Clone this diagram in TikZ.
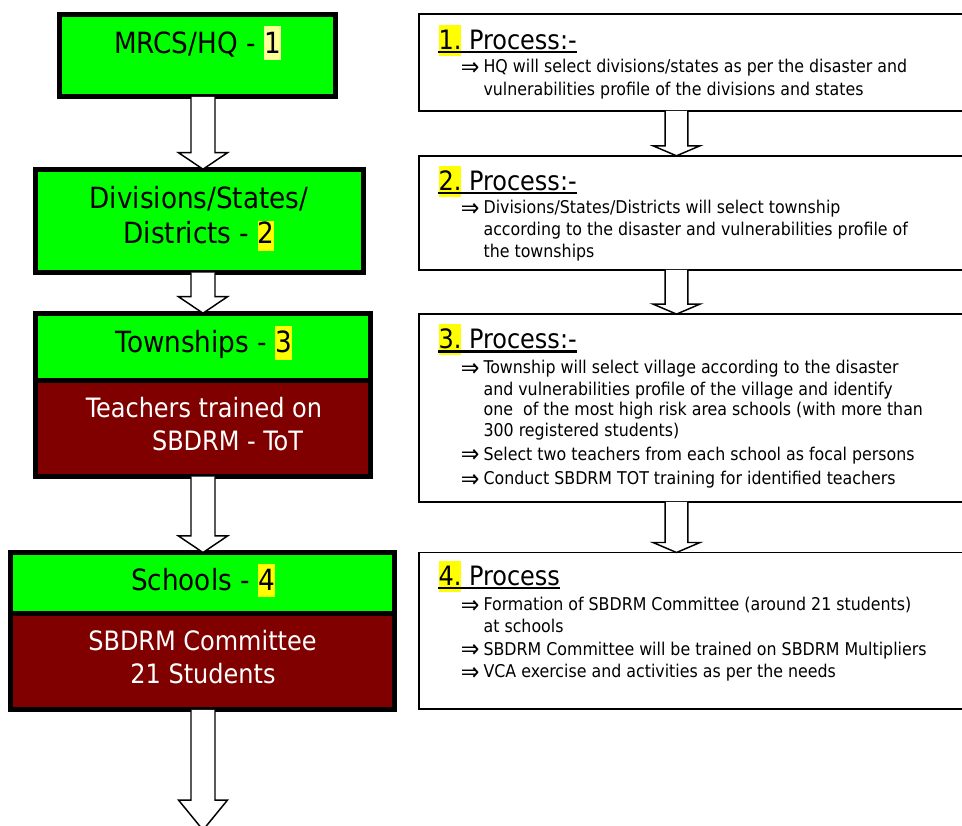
\documentclass[tikz,border=0pt]{standalone}
\usepackage{fontspec}
\setmainfont{DejaVu Sans Condensed}
\usetikzlibrary{calc}
\definecolor{lgreen}{HTML}{00FF00}
\definecolor{maroonc}{HTML}{800000}
\definecolor{paleyel}{HTML}{FFFF99}
\definecolor{hlyel}{HTML}{FFFF00}
\newcommand{\hlmark}[4]{{\setlength{\fboxsep}{0pt}\colorbox{#1}{\rule[-#2]{0pt}{#3}#4}}}
\newcommand{\blockarrow}[6]{% x-coordinate, from, to, shaft half, head half, head length
  \draw[barrow] let \p1=(#1), \p2=(#2), \p3=(#3) in
    (\x1-#4,\y2) -- (\x1-#4,\y3+#6) -- (\x1-#5,\y3+#6) -- (\x1,\y3)
    -- (\x1+#5,\y3+#6) -- (\x1+#4,\y3+#6) -- (\x1+#4,\y2);}
\tikzset{
  lbox/.style={draw=black, line width=3.75pt, inner sep=0pt, outer sep=0pt},
  rbox/.style={draw=black, line width=1.3pt, fill=white, inner sep=0pt, outer sep=0pt},
  gtext/.style={inner sep=0pt, font=\fontsize{21.9pt}{26pt}\selectfont, text=black},
  wtext/.style={inner sep=0pt, font=\fontsize{20pt}{24pt}\selectfont, text=white},
  headtext/.style={inner sep=0pt, anchor=base west, font=\fontsize{20pt}{24pt}\selectfont},
  btext/.style={inner sep=0pt, anchor=base west, font=\fontsize{13.2pt}{16.5pt}\selectfont},
  bmark/.style={inner sep=0pt, anchor=base west, yshift=-2.2pt, font=\fontsize{18.5pt}{20pt}\selectfont},
  uline/.style={line width=1.7pt},
  barrow/.style={draw=black, fill=white, line width=1.1pt, line join=miter}
}
\begin{document}
\begin{tikzpicture}[x=0.75pt, y=-0.75pt]
\useasboundingbox (0,0) rectangle (962,825);
\clip (0,0) rectangle (962,825);
\fill[white] (0,0) rectangle (962,825);

% ---------- left column boxes ----------
\node[lbox, fill=lgreen, minimum width=276.6*0.75pt, minimum height=82.6*0.75pt] (b1) at (197.5,55.5) {};
\node[lbox, fill=lgreen, minimum width=327.4*0.75pt, minimum height=103.3*0.75pt] (b2) at (199.5,220.85) {};
\node[lbox, fill=lgreen, minimum width=335*0.75pt, minimum height=66.8*0.75pt] (b3t) at (203.3,346.6) {};
\node[lbox, fill=maroonc, minimum width=335*0.75pt, minimum height=96.5*0.75pt] (b3b) at (203.3,428.25) {};
\node[lbox, fill=lgreen, minimum width=384*0.75pt, minimum height=61*0.75pt] (b4t) at (202.8,583) {};
\node[lbox, fill=maroonc, minimum width=384*0.75pt, minimum height=96.3*0.75pt] (b4b) at (202.8,661.65) {};
\coordinate (lax) at (203,0);
\coordinate (lend) at (203,830);

% ---------- right column boxes ----------
\node[rbox, minimum width=581*0.75pt, minimum height=96.6*0.75pt] (r1) at (709.5,62.5) {};
\node[rbox, minimum width=581*0.75pt, minimum height=114.1*0.75pt] (r2) at (709.5,212.85) {};
\node[rbox, minimum width=581*0.75pt, minimum height=187.8*0.75pt] (r3) at (709.5,408) {};
\node[rbox, minimum width=581*0.75pt, minimum height=156.7*0.75pt] (r4) at (709.5,630.85) {};
\coordinate (rax) at (676.5,0);

% ---------- left texts ----------
\node[gtext, anchor=base] (t1) at (197.5,53) {MRCS/HQ - \hlmark{paleyel}{5.25pt}{25.5pt}{1}};
\node[gtext, anchor=base] (t2a) at (199,208) {Divisions/States/};
\node[gtext, anchor=base] (t2b) at (199,243) {Districts - \hlmark{hlyel}{6.3pt}{20.6pt}{2}};
\node[gtext, anchor=base] (t3) at (204,352) {Townships - \hlmark{hlyel}{6pt}{25.5pt}{3}};
\node[wtext, anchor=base] (t3a) at (204,417) {Teachers trained on};
\node[wtext, anchor=base] (t3b) at (227.5,450) {SBDRM - ToT};
\node[gtext, anchor=base] (t4) at (203,590) {Schools - \hlmark{hlyel}{5.5pt}{25pt}{4}};
\node[wtext, anchor=base] (t4a) at (202.5,650) {SBDRM Committee};
\node[wtext, anchor=base] (t4b) at (203,683) {21 Students};

% ---------- right headings ----------
\node[headtext] (h1) at (438.3,49) {\hlmark{hlyel}{4.9pt}{22.9pt}{1.} Process:-};
\draw[uline] ([yshift=-2.4pt]h1.base west) -- ([yshift=-2.4pt]h1.base east);
\node[headtext] (h2) at (438.3,190) {\hlmark{hlyel}{4.9pt}{22.9pt}{2.} Process:-};
\draw[uline] ([yshift=-2.4pt]h2.base west) -- ([yshift=-2.4pt]h2.base east);
\node[headtext] (h3) at (438.3,348.3) {\hlmark{hlyel}{4.9pt}{22.9pt}{3.} Process:-};
\draw[uline] ([yshift=-2.4pt]h3.base west) -- ([yshift=-2.4pt]h3.base east);
\node[headtext] (h4) at (438.3,585) {\hlmark{hlyel}{4.9pt}{22.9pt}{4.} Process};
\draw[uline] ([yshift=-2.4pt]h4.base west) -- ([yshift=-2.4pt]h4.base east);

% ---------- bullets ----------
\node[bmark] (p1m) at (460.5,72.7) {⇒};
\node[btext] (p1a) at (483.3,72.7) {HQ will select divisions/states as per the disaster and};
\node[btext] (p1b) at (483.3,95) {vulnerabilities profile of the divisions and states};

\node[bmark] (p2m) at (460.5,213.5) {⇒};
\node[btext] (p2a) at (483.3,213.5) {Divisions/States/Districts will select township};
\node[btext] (p2b) at (483.3,235.5) {according to the disaster and vulnerabilities profile of};
\node[btext] (p2c) at (483.3,257) {the townships};

\node[bmark] (p3m) at (460.5,373.3) {⇒};
\node[btext] (p3a) at (483.3,373.3) {Township will select village according to the disaster};
\node[btext] (p3b) at (483.3,395) {and vulnerabilities profile of the village and identify};
\node[btext] (p3c) at (483.3,415.5) {one \ of the most high risk area schools (with more than};
\node[btext] (p3d) at (483.3,436.7) {300 registered students)};
\node[bmark] (p3n) at (460.5,460) {⇒};
\node[btext] (p3e) at (483.3,460) {Select two teachers from each school as focal persons};
\node[bmark] (p3o) at (460.5,484.3) {⇒};
\node[btext] (p3f) at (483.3,484.3) {Conduct SBDRM TOT training for identified teachers};

\node[bmark] (p4m) at (460.5,610.7) {⇒};
\node[btext] (p4a) at (483.3,610.7) {Formation of SBDRM Committee (around 21 students)};
\node[btext] (p4b) at (483.3,632.7) {at schools};
\node[bmark] (p4n) at (460.5,655) {⇒};
\node[btext] (p4c) at (483.3,655) {SBDRM Committee will be trained on SBDRM Multipliers};
\node[bmark] (p4o) at (460.5,677.3) {⇒};
\node[btext] (p4d) at (483.3,677.3) {VCA exercise and activities as per the needs};

% ---------- arrows ----------
\blockarrow{lax}{b1.south}{b2.north}{9pt}{18.4pt}{12.4pt}
\blockarrow{lax}{b2.south}{b3t.north}{9pt}{18.4pt}{12.4pt}
\blockarrow{lax}{b3b.south}{b4t.north}{9pt}{18.4pt}{12.4pt}
\blockarrow{lax}{b4b.south}{lend}{9pt}{18.4pt}{22.5pt}
\blockarrow{rax}{r1.south}{r2.north}{8.6pt}{17.6pt}{7.5pt}
\blockarrow{rax}{r2.south}{r3.north}{8.6pt}{17.6pt}{7.5pt}
\blockarrow{rax}{r3.south}{r4.north}{8.6pt}{17.6pt}{7.5pt}
\end{tikzpicture}
\end{document}
